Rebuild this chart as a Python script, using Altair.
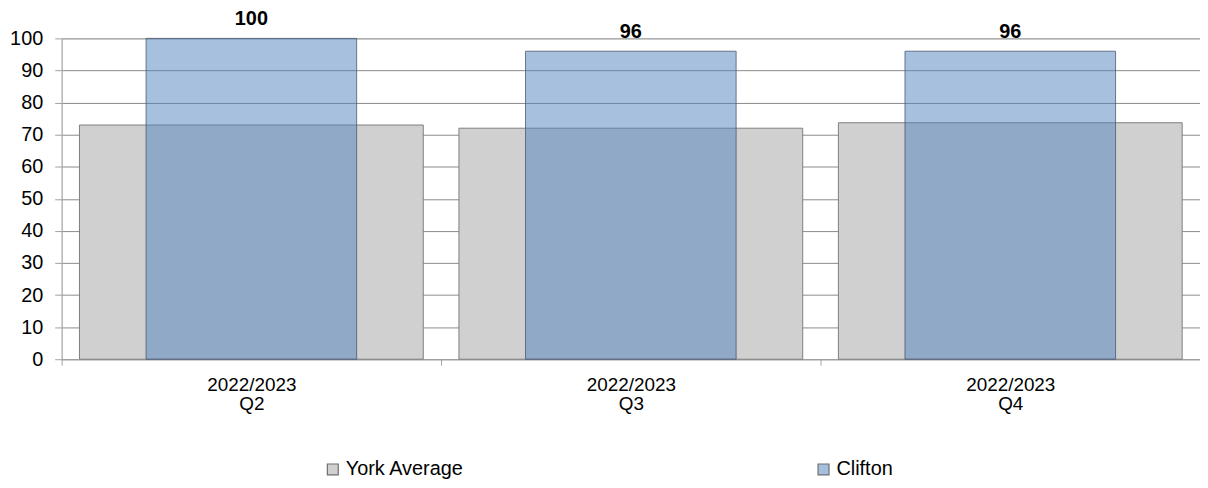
import altair as alt
import pandas as pd

periods = ["2022/2023 Q2", "2022/2023 Q3", "2022/2023 Q4"]
york = [73, 72, 73.7]
clifton = [100, 96, 96]
series = ["York Average", "Clifton"]
y_ticks = [0, 10, 20, 30, 40, 50, 60, 70, 80, 90, 100]

york_df = pd.DataFrame({"period": periods, "value": york, "series": series[0]})
clif_df = pd.DataFrame({"period": periods, "value": clifton, "series": series[1]})

FONT = "Liberation Sans"

x_enc = alt.X(
    "period:N",
    sort=periods,
    title=None,
    scale=alt.Scale(paddingInner=0, paddingOuter=0),
    axis=alt.Axis(
        labelExpr="split(datum.label, ' ')",
        labelAngle=0,
        labelFontSize=19,
        labelFont=FONT,
        labelColor="#000000",
        labelPadding=10,
        labelLineHeight=20,
        tickBand="extent",
        tickSize=6,
        tickColor="#A0A0A0",
        domainColor="#A0A0A0",
        grid=False,
    ),
)

y_enc = alt.Y(
    "value:Q",
    title=None,
    scale=alt.Scale(domain=[0, 100], nice=False),
    axis=alt.Axis(
        values=y_ticks,
        tickCount=20,
        labelOverlap=False,
        labelFontSize=20,
        labelFont=FONT,
        labelColor="#000000",
        labelPadding=12,
        tickSize=7,
        tickColor="#A0A0A0",
        domainColor="#A0A0A0",
        gridColor="#8A8A8A",
        gridWidth=1,
    ),
)

york_layer = alt.Chart(york_df).mark_bar(
    width=alt.RelativeBandSize(0.906),
    stroke="#7F7F7F",
    strokeWidth=1,
).encode(
    x=x_enc,
    y=y_enc,
    color=alt.Color(
        "series:N",
        scale=alt.Scale(domain=series, range=["#D0D0D0", "#A7BFDE"]),
        legend=alt.Legend(
            title=None,
            orient="none",
            direction="horizontal",
            legendX=263,
            legendY=424,
            labelFontSize=20,
            labelFont=FONT,
            labelColor="#000000",
            symbolType="square",
            symbolSize=121,
            symbolStrokeColor="#6F6F6F",
            symbolStrokeWidth=1.2,
            symbolOpacity=1,
            labelOffset=3,
            columnPadding=352,
        ),
    ),
)

clif_layer = alt.Chart(clif_df).mark_bar(
    width=alt.RelativeBandSize(0.555),
    fill="#4F81BD",
    fillOpacity=0.5,
    stroke="#4A5A70",
    strokeOpacity=0.8,
    strokeWidth=1,
).encode(
    x=x_enc,
    y=y_enc,
)

labels = alt.Chart(clif_df).mark_text(
    baseline="alphabetic",
    dy=-13,
    fontSize=20,
    fontWeight="bold",
    font=FONT,
    color="#000000",
).encode(
    x=x_enc,
    y=y_enc,
    text=alt.Text("value:Q"),
)

chart = alt.layer(york_layer, clif_layer, labels).properties(
    width=1146,
    height=323,
    autosize=alt.AutoSizeParams(type="none"),
    padding={"left": 54, "top": 29, "right": 0, "bottom": 120},
).configure_view(stroke=None).configure(background="#FFFFFF")

chart.save("out.html", embed_options={"renderer": "svg", "actions": False})
